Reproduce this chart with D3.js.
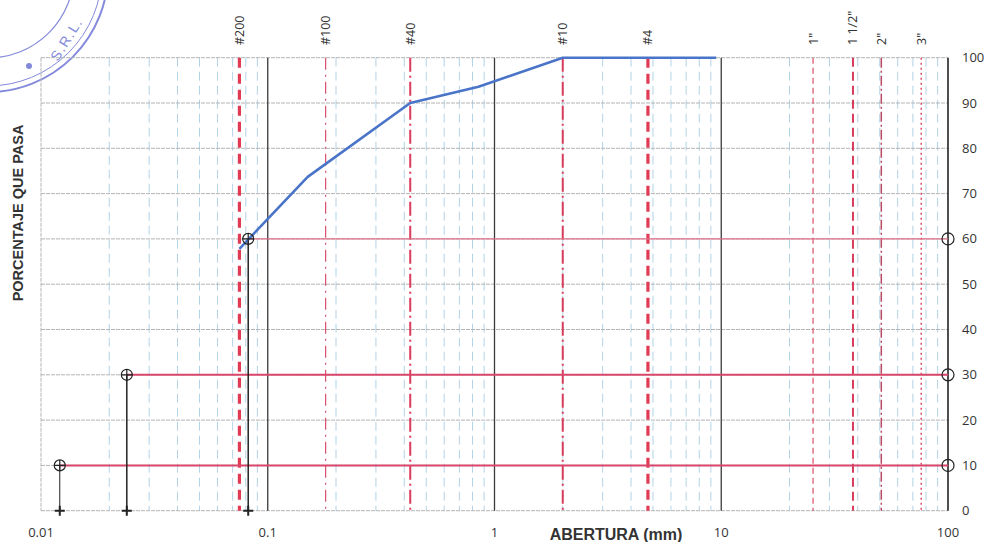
<!DOCTYPE html>
<html>
<head>
<meta charset="utf-8">
<script src="https://cdn.jsdelivr.net/npm/d3@7"></script>
<style>
  body { margin: 0; background: #fff; }
  svg { display: block; }
</style>
</head>
<body>
<script>
// sieve marks shown on top of the chart
var sieveNames = ['#200', '#100', '#40', '#10', '#4', '1"', '1 1/2"', '2"', '3"'];
var sieveOpenings = [0.075, 0.18, 0.425, 2.0, 4.75, 25.4, 38.1, 50.8, 76.2];

// grading curve (mm, % passing)
var curveSize = [0.075, 0.15, 0.425, 0.85, 2.0, 4.75, 9.5];
var curvePass = [57.8, 73.7, 90, 93.6, 100, 100, 100];

// D10, D30, D60
var dNames = ['D10', 'D30', 'D60'];
var dSize = [0.0121, 0.0239, 0.082];
var dPass = [10, 30, 60];

var xTicks = [0.01, 0.1, 1, 10, 100];
var yTicks = [0, 10, 20, 30, 40, 50, 60, 70, 80, 90, 100];

var width = 984, height = 542;
// note: "top" is taken by window.top, so plot edges get their own names
var plotLeft = 41, plotRight = 948, plotTop = 57.7, plotBottom = 510.7;

var x = d3.scaleLog().domain([0.01, 100]).range([plotLeft, plotRight]);
var y = d3.scaleLinear().domain([0, 100]).range([plotBottom, plotTop]);

var svg = d3.select('body').append('svg')
  .attr('width', width)
  .attr('height', height);

// stamp in the corner (partly cut off)
var stamp = svg.append('g').attr('fill', 'none').attr('stroke', '#5b63d0').attr('opacity', 0.75);
stamp.append('circle').attr('cx', -12).attr('cy', -28).attr('r', 120).attr('stroke-width', 2);
stamp.append('circle').attr('cx', -12).attr('cy', -28).attr('r', 114).attr('stroke-width', 1);
stamp.append('circle').attr('cx', -12).attr('cy', -28).attr('r', 86).attr('stroke-width', 1.2);
stamp.append('circle').attr('cx', 29).attr('cy', 66).attr('r', 3).attr('fill', '#5b63d0').attr('stroke', 'none');
svg.append('text')
  .attr('transform', 'translate(58,62) rotate(-58)')
  .attr('fill', '#5b63d0').attr('opacity', 0.75)
  .attr('font-family', 'Liberation Sans, Arial, sans-serif')
  .attr('font-size', 14)
  .attr('letter-spacing', 1.5)
  .text('S.R.L.');

// minor vertical grid (2..9 per decade)
var minor = [];
for (var e = -2; e < 2; e++) {
  for (var m = 2; m <= 9; m++) {
    minor.push(m * Math.pow(10, e));
  }
}
svg.append('g').selectAll('line')
  .data(minor).enter().append('line')
  .attr('x1', function(d) { return x(d); })
  .attr('x2', function(d) { return x(d); })
  .attr('y1', plotTop).attr('y2', plotBottom)
  .attr('stroke', '#b3d3e6')
  .attr('stroke-width', 1)
  .attr('stroke-dasharray', '9,5');

// horizontal grid
svg.append('g').selectAll('line')
  .data(yTicks).enter().append('line')
  .attr('x1', plotLeft).attr('x2', plotRight)
  .attr('y1', function(d) { return y(d); })
  .attr('y2', function(d) { return y(d); })
  .attr('stroke', '#b4b4b4')
  .attr('stroke-width', 1)
  .attr('stroke-dasharray', '4,1');

// left border at 0.01
svg.append('line')
  .attr('x1', x(0.01)).attr('x2', x(0.01))
  .attr('y1', plotTop).attr('y2', plotBottom)
  .attr('stroke', '#b4b4b4')
  .attr('stroke-dasharray', '4,1');

// decade lines
svg.append('g').selectAll('line')
  .data(xTicks.slice(1)).enter().append('line')
  .attr('x1', function(d) { return x(d); })
  .attr('x2', function(d) { return x(d); })
  .attr('y1', plotTop).attr('y2', plotBottom)
  .attr('stroke', function(d) { return d === 100 ? '#222' : '#3a3a3a'; })
  .attr('stroke-width', function(d) { return d === 100 ? 1.6 : 1.3; });

// sieve lines, each with its own style
var sieveStyle = [
  {w: 3.2, dash: '10,6', c: '#e03a55'},
  {w: 1.2, dash: '12,5,2,5', c: '#d8506a'},
  {w: 2, dash: '14,4,2,4', c: '#d83c5c'},
  {w: 2, dash: '14,4,2,4', c: '#d83c5c'},
  {w: 3.2, dash: '10,6', c: '#e03a55'},
  {w: 1.2, dash: '6,4', c: '#d8506a'},
  {w: 2, dash: '9,5', c: '#d83c5c'},
  {w: 1.5, dash: '10,3,2,3', c: '#b84a66'},
  {w: 1.5, dash: '2,3', c: '#d8506a'}
];
svg.append('g').selectAll('line')
  .data(sieveOpenings).enter().append('line')
  .attr('x1', function(d) { return x(d); })
  .attr('x2', function(d) { return x(d); })
  .attr('y1', plotTop).attr('y2', plotBottom)
  .attr('stroke', function(d, i) { return sieveStyle[i].c; })
  .attr('stroke-width', function(d, i) { return sieveStyle[i].w; })
  .attr('stroke-dasharray', function(d, i) { return sieveStyle[i].dash; });

svg.append('g').selectAll('text')
  .data(sieveOpenings).enter().append('text')
  .attr('transform', function(d) { return 'translate(' + (x(d) + 4.5) + ',45) rotate(-90)'; })
  .attr('font-family', 'Open Sans, Liberation Sans, sans-serif')
  .attr('font-size', 12.5)
  .attr('fill', '#333')
  .text(function(d, i) { return sieveNames[i]; });

// red lines from each D to the right border
svg.append('g').selectAll('line')
  .data(dSize).enter().append('line')
  .attr('x1', function(d) { return x(d); })
  .attr('x2', plotRight)
  .attr('y1', function(d, i) { return y(dPass[i]); })
  .attr('y2', function(d, i) { return y(dPass[i]); })
  .attr('stroke', function(d, i) { return i === 2 ? '#e0708a' : '#d9466a'; })
  .attr('stroke-width', function(d, i) { return i === 2 ? 1.3 : 2; });

// black verticals down to 0
svg.append('g').selectAll('line')
  .data(dSize).enter().append('line')
  .attr('x1', function(d) { return x(d); })
  .attr('x2', function(d) { return x(d); })
  .attr('y1', y(0))
  .attr('y2', function(d, i) { return y(dPass[i]); })
  .attr('stroke', '#222')
  .attr('stroke-width', function(d, i) { return i === 0 ? 1 : 1.5; });

// grading curve
var line = d3.line()
  .x(function(d) { return x(d[0]); })
  .y(function(d) { return y(d[1]); });
svg.append('path')
  .datum(d3.zip(curveSize, curvePass))
  .attr('d', line)
  .attr('fill', 'none')
  .attr('stroke', '#4a74c8')
  .attr('stroke-width', 2.6)
  .attr('stroke-linejoin', 'round');

// markers
var mk = svg.append('g').attr('fill', 'none').attr('stroke', '#222').attr('stroke-width', 1.2);
dSize.forEach(function(d, i) {
  var cx = x(d), cy = y(dPass[i]);
  mk.append('circle').attr('cx', cx).attr('cy', cy).attr('r', 5.5);
  mk.append('path').attr('d', 'M' + (cx - 5.5) + ',' + cy + 'H' + (cx + 5.5) + 'M' + cx + ',' + (cy - 5.5) + 'V' + (cy + 5.5));
  // right border circle
  mk.append('circle').attr('cx', x(100)).attr('cy', cy).attr('r', 6);
  // plus at the bottom
  mk.append('path')
    .attr('d', 'M' + (cx - 5) + ',' + y(0) + 'H' + (cx + 5) + 'M' + cx + ',' + (y(0) - 5) + 'V' + (y(0) + 5))
    .attr('stroke-width', 2);
});

// tick labels
svg.append('g').selectAll('text')
  .data(yTicks).enter().append('text')
  .attr('x', 962)
  .attr('y', function(d) { return y(d) + 4.5; })
  .attr('font-family', 'Open Sans, Liberation Sans, sans-serif')
  .attr('font-size', 13)
  .attr('fill', '#333')
  .text(function(d) { return d; });

svg.append('g').selectAll('text')
  .data(xTicks).enter().append('text')
  .attr('x', function(d) { return x(d); })
  .attr('y', 537)
  .attr('text-anchor', 'middle')
  .attr('font-family', 'Open Sans, Liberation Sans, sans-serif')
  .attr('font-size', 13)
  .attr('fill', '#333')
  .text(function(d) { return d; });

// titles
svg.append('text')
  .attr('x', 616).attr('y', 540)
  .attr('text-anchor', 'middle')
  .attr('font-family', 'Liberation Sans, Arial, sans-serif')
  .attr('font-weight', 'bold')
  .attr('font-size', 16)
  .attr('fill', '#333')
  .text('ABERTURA (mm)');

svg.append('text')
  .attr('transform', 'translate(23,213) rotate(-90)')
  .attr('text-anchor', 'middle')
  .attr('font-family', 'Liberation Sans, Arial, sans-serif')
  .attr('font-weight', 'bold')
  .attr('font-size', 14.5)
  .attr('fill', '#333')
  .text('PORCENTAJE QUE PASA');
</script>
</body>
</html>
